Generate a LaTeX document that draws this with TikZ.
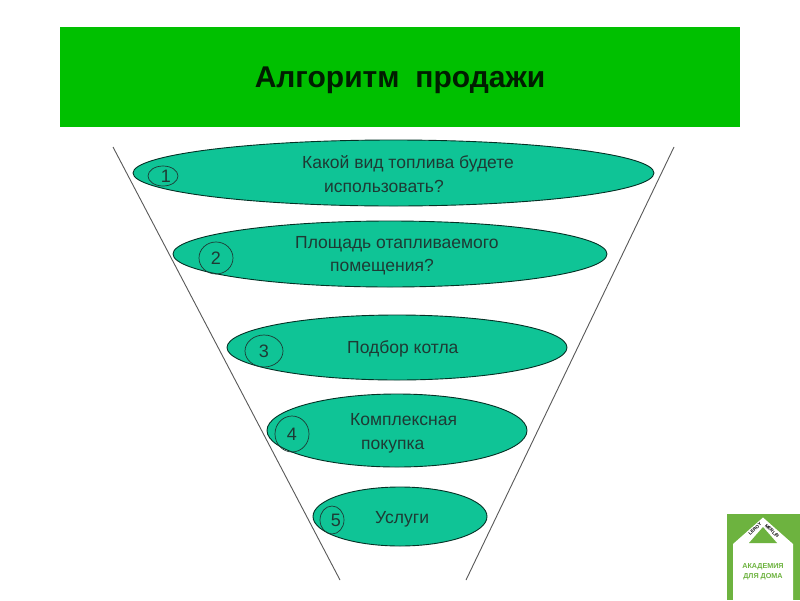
\documentclass[tikz,border=0pt]{standalone}
\usepackage{fontspec}
\setmainfont{Liberation Sans}
\usetikzlibrary{shapes.geometric}
\definecolor{banner}{HTML}{00C000}
\definecolor{oval}{HTML}{0FC496}
\definecolor{ink}{HTML}{1E3A34}
\definecolor{logogreen}{HTML}{6DB33F}
\tikzset{
  x=1pt,y=-1pt,
  funnel/.style={draw=black!65!white,line width=0.9pt},
  stage/.style={draw=black!75!oval,line width=0.9pt,fill=oval},
  badge/.style={draw=ink,line width=0.7pt},
  num/.style={font=\fontsize{18}{18}\selectfont,text=ink},
  lbl/.style={font=\fontsize{17.5}{21}\selectfont,text=ink,inner sep=0pt,anchor=base west},
}
\newcommand{\ovalshape}[4]{\fill[stage] (#1,#2) ellipse [x radius=#3,y radius=#4];}
\begin{document}
\begin{tikzpicture}
\useasboundingbox (0,0) rectangle (800,600);
\fill[white] (0,0) rectangle (800,600);
\fill[banner] (60,27) rectangle (740,127);
\node[font=\bfseries\fontsize{30}{30}\selectfont,text=black!85!banner,inner sep=0pt] (title) at (400,80) {Алгоритм\hspace{0.25em} продажи};
% funnel
\coordinate (lt) at (113,147); \coordinate (lb) at (340,580);
\coordinate (rt) at (674,147); \coordinate (rb) at (466,580);
\draw[funnel] (lt) -- (lb);
\draw[funnel] (rt) -- (rb);
% stages
\ovalshape{393.5}{173}{260.5}{33}
\ovalshape{390}{254}{217}{33}
\ovalshape{397}{347.5}{170}{32.5}
\ovalshape{397}{430.5}{130}{36.5}
\ovalshape{400}{516.5}{87}{29.5}
% badges
\draw[badge] (163,176) ellipse [x radius=15,y radius=10];
\draw[badge] (216,258) ellipse [x radius=17,y radius=16];
\draw[badge] (264,351) ellipse [x radius=19,y radius=16];
\draw[badge] (292,434) ellipse [x radius=17,y radius=18];
\draw[badge] (332,520) ellipse [x radius=12,y radius=14];
\node[num] (n1) at (166,176) {1};
\node[num] (n2) at (216,258) {2};
\node[num] (n3) at (264,351) {3};
\node[num] (n4) at (292,434) {4};
\node[num] (n5) at (336,520) {5};
% labels
\node[lbl] (t1a) at (302,168) {Какой вид топлива будете};
\node[lbl] (t1b) at (324,192) {использовать?};
\node[lbl] (t2a) at (295,248) {Площадь отапливаемого};
\node[lbl] (t2b) at (330,271) {помещения?};
\node[lbl] (t3) at (347,353) {Подбор котла};
\node[lbl] (t4a) at (350,425) {Комплексная};
\node[lbl] (t4b) at (361,449) {покупка};
\node[lbl] (t5) at (375,523) {Услуги};
% logo
\fill[logogreen] (727,514) rectangle (800,600);
\fill[white] (733,600) -- (733,544) -- (763,517.5) -- (793,544) -- (793,600) -- cycle;
\fill[logogreen] (763,527) -- (749,543) -- (777,543) -- cycle;
\node[font=\bfseries\fontsize{4.6}{5}\selectfont,rotate=44,inner sep=0pt] (lm1) at (755,529) {LEROY};
\node[font=\bfseries\fontsize{4.6}{5}\selectfont,rotate=-44,inner sep=0pt] (lm2) at (772,531) {MERLIN};
\node[font=\bfseries\fontsize{7.2}{10}\selectfont,text=logogreen,align=center,inner sep=0pt] (ak) at (763,572) {АКАДЕМИЯ\\ДЛЯ ДОМА};
\end{tikzpicture}
\end{document}
